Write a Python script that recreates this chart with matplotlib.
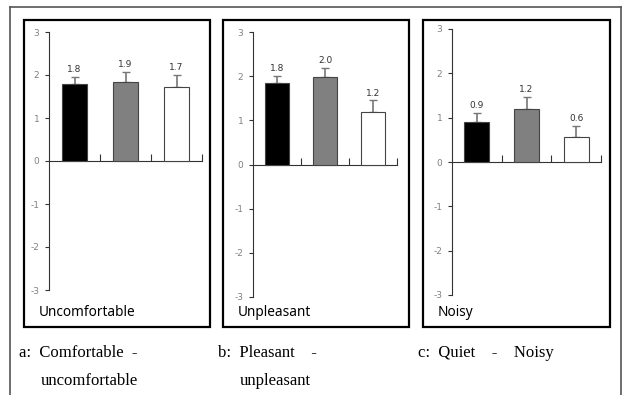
import numpy as np
import matplotlib.pyplot as plt
from matplotlib.patches import Rectangle
from matplotlib.lines import Line2D

# data
panel_titles = ['Uncomfortable', 'Unpleasant', 'Noisy']
means = [[1.78, 1.83, 1.72],
         [1.84, 1.98, 1.20],
         [0.90, 1.20, 0.57]]
errors = [[0.17, 0.24, 0.28],
          [0.16, 0.20, 0.25],
          [0.20, 0.27, 0.25]]
value_labels = [['1.8', '1.9', '1.7'],
                ['1.8', '2.0', '1.2'],
                ['0.9', '1.2', '0.6']]
captions = [['a:  Comfortable  -', 'uncomfortable'],
            ['b:  Pleasant    -', 'unpleasant'],
            ['c:  Quiet    -    Noisy', '']]
yticks = [-3, -2, -1, 0, 1, 2, 3]

bar_colors = ['black', '#808080', 'white']

W, H = 623, 395
fig = plt.figure(figsize=(W / 100, H / 100), dpi=100)

def fx(px):
    return px / W

def fy(py):
    return 1 - py / H

# pixel layout: axes (x0, x1, ytop, ybottom), panel boxes (x0, x1)
axes_px = [(49, 202, 32, 290), (253, 397, 32, 297), (452, 601, 29, 295)]
box_px = [(24, 210), (223, 409), (423, 610)]
box_top, box_bot = 20, 327

# outer frame
for xs, ys in [([10, 621], [7, 7]), ([10, 10], [7, 395]), ([621, 621], [7, 395])]:
    fig.add_artist(Line2D([fx(v) for v in xs], [fy(v) for v in ys],
                          color='#555555', lw=1.2))

for i in range(3):
    bx0, bx1 = box_px[i]
    fig.add_artist(Rectangle((fx(bx0), fy(box_bot)), fx(bx1 - bx0),
                             (box_bot - box_top) / H, fill=False,
                             edgecolor='black', lw=1.6))

    x0, x1, yt, yb = axes_px[i]
    ax = fig.add_axes([fx(x0), fy(yb), fx(x1 - x0), (yb - yt) / H])
    x = np.arange(3) + 0.5
    ax.bar(x, means[i], width=0.5, color=bar_colors, edgecolor='#444444',
           linewidth=0.8, zorder=3)
    ax.errorbar(x, means[i], yerr=[np.zeros(3), errors[i]], fmt='none',
                ecolor='#777777', elinewidth=1.2, capsize=3, capthick=1.0,
                zorder=2)
    for xi, m, e, lab in zip(x, means[i], errors[i], value_labels[i]):
        ax.annotate(lab, (xi, m + e), xytext=(0, 2), textcoords='offset points',
                    ha='center', va='bottom', fontsize=6.5, color='#333333')

    ax.set_xlim(0, 3)
    ax.set_ylim(-3, 3)
    ax.set_yticks(yticks)
    ax.set_yticklabels([str(t) for t in yticks])
    ax.tick_params(axis='y', length=3, width=0.8, labelsize=6.5,
                   labelcolor='#808080', color='#333333', pad=4)
    ax.set_xticks([])
    ax.set_xticks([1, 2, 3], minor=True)
    ax.tick_params(axis='x', which='minor', direction='in', length=5,
                   width=0.8, color='#333333')
    ax.spines['bottom'].set_position(('data', 0))
    ax.spines['top'].set_visible(False)
    ax.spines['right'].set_visible(False)
    for s in ['left', 'bottom']:
        ax.spines[s].set_linewidth(0.8)
        ax.spines[s].set_color('#333333')
    ax.patch.set_visible(False)

    fig.text(fx(bx0 + 15), fy(312), panel_titles[i], fontsize=9.8,
             family='Noto Sans', va='center', ha='left', color='black')

    fig.text(fx(bx0 - 5), fy(353), captions[i][0], fontsize=12,
             family='Liberation Serif', va='center', ha='left')
    fig.text(fx(bx0 + 17), fy(381), captions[i][1], fontsize=12,
             family='Liberation Serif', va='center', ha='left')

fig.savefig('out.png', dpi=100)
